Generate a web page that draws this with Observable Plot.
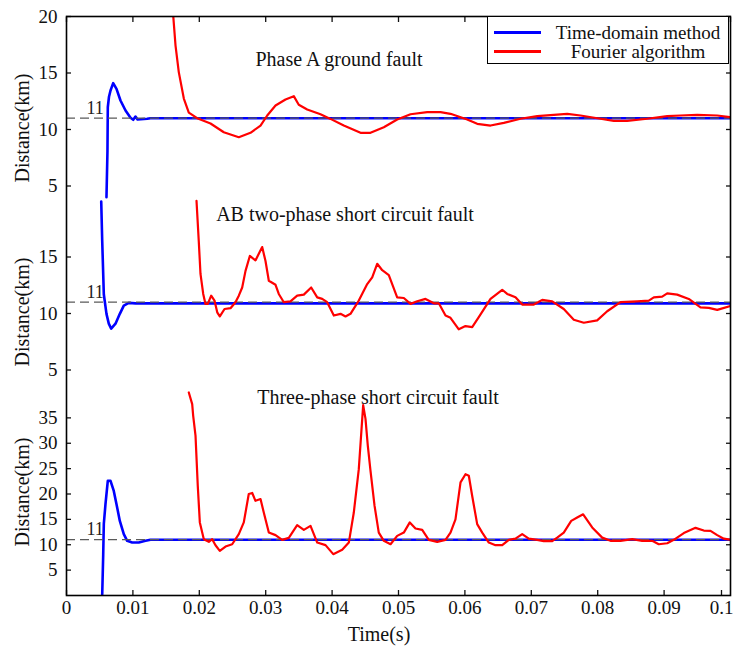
<!DOCTYPE html>
<html><head><meta charset="utf-8">
<script src="https://cdn.jsdelivr.net/npm/d3@7"></script>
<script src="https://cdn.jsdelivr.net/npm/@observablehq/plot@0.6"></script>
<style>
body{margin:0;background:#fff;}
#chart{position:relative;width:734px;height:646px;font-family:"Liberation Serif",serif;color:#111;}
#chart svg{position:absolute;left:0;top:0;}
.lbl{position:absolute;font-size:20px;white-space:nowrap;line-height:1;}
.ctr{transform:translate(-50%,-50%);}
.rot{transform:translate(-50%,-50%) rotate(-90deg);}
#legend{position:absolute;left:487px;top:16px;width:242px;height:48px;border:1.5px solid #000;background:#fff;box-sizing:border-box;}
#legend .row{position:absolute;left:0;width:100%;height:20px;}
#legend .sw{position:absolute;left:6px;top:9px;width:47px;height:3px;}
#legend .tx{position:absolute;left:60px;right:0px;top:0px;text-align:center;font-size:19px;}
</style></head>
<body>
<div id="chart"></div>
<script>
// ---------- data ----------
const seriesNames = ["Time-domain method", "Fourier algorithm"];
const seriesColors = ["#0000ff", "#ff0000"];
const panelTitles = ["Phase A ground fault", "AB two-phase short circuit fault", "Three-phase short circuit fault"];
const yLabel = "Distance(km)";
const xLabel = "Time(s)";
const refDistance = 11;
const xTicks = [0, 0.01, 0.02, 0.03, 0.04, 0.05, 0.06, 0.07, 0.08, 0.09, 0.1];
const yTicks1 = [5, 10, 15, 20];
const yTicks2 = [5, 10, 15];
const yTicks3 = [5, 10, 15, 20, 25, 30, 35];

// Panel 1: Phase A ground fault
const p1BlueT = [0.00602,0.00617,0.00622,0.0064,0.00663,0.00703,0.00753,0.00813,0.00889,0.00964,0.01005,0.01039,0.0107,0.01215,0.01265,0.1];
const p1BlueV = [4.0,8.1,11.97,12.9,13.45,14.1,13.6,12.57,11.68,11.04,10.86,11.15,10.88,10.95,11.0,11.0];
const p1RedT = [0.01596,0.01607,0.01642,0.01691,0.01767,0.01842,0.01968,0.02169,0.02369,0.02595,0.02771,0.02922,0.03023,0.03148,0.03298,0.03423,0.03498,0.03625,0.03825,0.03976,0.04176,0.04428,0.04578,0.04779,0.0498,0.05181,0.05432,0.05633,0.05783,0.06035,0.06185,0.06386,0.06586,0.06837,0.07089,0.07339,0.07541,0.07741,0.08042,0.08242,0.08444,0.08745,0.09047,0.09247,0.09498,0.098,0.1];
const p1RedV = [21,20.09,17.43,15.08,12.74,11.5,11.0,10.53,9.76,9.32,9.71,10.35,11.24,12.12,12.65,12.95,12.19,11.77,11.35,10.94,10.35,9.71,9.71,10.2,10.88,11.35,11.53,11.53,11.39,10.88,10.5,10.35,10.59,10.95,11.18,11.3,11.39,11.24,10.95,10.77,10.77,10.95,11.18,11.24,11.3,11.24,11.09];

// Panel 2: AB two-phase short circuit fault
const p2BlueT = [0.00523,0.00538,0.00562,0.00602,0.00637,0.00673,0.00738,0.00803,0.00863,0.00938,0.0104,0.1];
const p2BlueV = [19.9,16.4,11.7,9.97,9.1,8.66,9.1,9.97,10.7,10.94,10.9,10.9];
const p2RedT = [0.01958,0.01992,0.02018,0.02059,0.02093,0.02128,0.02179,0.02229,0.0227,0.02309,0.0238,0.0247,0.02545,0.02595,0.02646,0.02696,0.02761,0.02846,0.02947,0.02997,0.03047,0.03148,0.03197,0.03273,0.03373,0.03474,0.03574,0.03685,0.03776,0.03851,0.03926,0.04026,0.04127,0.04202,0.04277,0.04402,0.04529,0.04604,0.04679,0.04755,0.04854,0.0498,0.0508,0.05181,0.05282,0.05407,0.05532,0.05607,0.05708,0.05783,0.05908,0.06009,0.0611,0.06209,0.06386,0.06562,0.06637,0.06762,0.06863,0.07038,0.07164,0.07315,0.07489,0.0764,0.07791,0.07992,0.08143,0.08343,0.08595,0.0877,0.08845,0.08971,0.09047,0.09197,0.09372,0.09548,0.09673,0.098,0.1];
const p2RedV = [19.97,16.4,13.5,11.73,10.85,10.85,11.58,11.14,10.1,9.74,10.4,10.47,11.0,11.58,12.3,13.77,15.09,14.7,15.88,14.65,12.9,12.54,11.73,11.0,11.08,11.58,11.67,12.3,11.43,11.29,11.0,9.82,9.97,9.74,9.97,11.14,12.6,13.2,14.4,13.83,13.4,11.43,11.37,10.85,11.08,11.29,10.9,10.9,9.82,9.62,8.6,8.89,8.8,9.68,11.29,12.1,11.73,11.43,10.79,10.79,11.2,11.08,10.4,9.45,9.18,9.39,10.2,11.0,11.08,11.14,11.43,11.49,11.78,11.67,11.29,10.55,10.5,10.32,10.67];

// Panel 3: Three-phase short circuit fault
const p3BlueT = [0.00538,0.00553,0.00562,0.00587,0.00622,0.00663,0.00712,0.00753,0.00803,0.00863,0.00914,0.00989,0.01089,0.0119,0.01265,0.1];
const p3BlueV = [0.26,8.1,14.1,18.0,22.6,22.6,20.6,18.0,14.7,12.1,10.77,10.43,10.43,10.77,11,11];
const p3RedT = [0.01842,0.01893,0.01908,0.01943,0.01977,0.02008,0.02068,0.02143,0.02194,0.02244,0.02309,0.02395,0.02495,0.02595,0.0267,0.02745,0.02797,0.02846,0.02922,0.02971,0.03047,0.03148,0.03248,0.03348,0.03474,0.03574,0.03675,0.03776,0.03901,0.04017,0.04152,0.04252,0.04327,0.04402,0.04468,0.04503,0.04538,0.04578,0.04639,0.04703,0.04779,0.0488,0.0498,0.0508,0.0517,0.05256,0.05357,0.05456,0.05583,0.05708,0.05783,0.05858,0.05934,0.06009,0.06059,0.0611,0.06185,0.06261,0.0636,0.06461,0.06562,0.06661,0.06762,0.06863,0.06962,0.07089,0.07188,0.07315,0.0739,0.07489,0.07601,0.07691,0.07781,0.07917,0.08068,0.08193,0.08343,0.0852,0.0867,0.0882,0.0892,0.09047,0.09146,0.09297,0.09473,0.09598,0.09699,0.098,0.09899,0.1];
const p3RedV = [40.0,37.7,35.4,31.5,21.6,14.4,11.1,10.57,11.1,9.9,8.8,9.65,10.1,12.1,14.4,20.0,20.2,18.66,19.0,16.35,12.4,11.9,10.97,11.36,13.87,12.94,13.73,10.43,9.92,8.15,9.0,10.43,16.35,24.9,37.5,34.8,29.5,24.6,17.7,12.4,10.77,10.1,11.75,12.4,14.4,13.2,12.94,10.97,10.57,10.97,12.4,15.0,22.3,23.9,23.6,19.6,14.06,12.4,10.43,9.92,9.92,10.97,11.2,12.1,11.2,10.97,10.7,10.7,11.4,12.4,14.7,15.36,16.0,13.4,11.4,10.77,10.77,11.1,10.77,10.77,10.1,10.3,10.97,12.3,13.33,12.8,12.74,11.9,11.2,10.97];

// ---------- build ----------
const zip = (T, V) => T.map((t, i) => ({t, v: V[i]}));
const W = 734, H = 646;
const M = {left: 66, right: 4, top: 16, bottom: 51};
const fmtX = d => String(+d.toFixed(2));

const panels = [
  {domain: [0, 20], range: [242, 16], ticks: yTicks1, blue: zip(p1BlueT, p1BlueV), red: zip(p1RedT, p1RedV)},
  {domain: [0, 20], range: [426, 200], ticks: yTicks2, blue: zip(p2BlueT, p2BlueV), red: zip(p2RedT, p2RedV)},
  {domain: [0, 40], range: [595, 392], ticks: yTicks3, blue: zip(p3BlueT, p3BlueV), red: zip(p3RedT, p3RedV), last: true}
];

const chart = document.getElementById("chart");
panels.forEach(p => {
  const marks = [
    Plot.line(p.blue, {x: "t", y: "v", stroke: seriesColors[0], strokeWidth: 2.6, clip: true}),
    Plot.ruleY([refDistance], {stroke: "#5a5a5a", strokeWidth: 1.3, strokeDasharray: "9,5"}),
    Plot.line(p.red, {x: "t", y: "v", stroke: seriesColors[1], strokeWidth: 2.2, clip: true}),
    Plot.text([refDistance], {y: d => d, text: d => String(d), frameAnchor: "left", dx: 20, dy: -10, fontSize: 18, fill: "#222"}),
    Plot.axisY(p.ticks, {anchor: "left", tickSize: -5, tickPadding: 14, label: null, strokeWidth: 1.3, fontSize: 19}),
    Plot.axisY(p.ticks, {anchor: "right", tickSize: -5, tickFormat: () => "", label: null, strokeWidth: 1.3})
  ];
  if (p.last) {
    marks.push(
      Plot.axisX(xTicks.slice(0, -1), {anchor: "bottom", tickSize: -5, tickPadding: 10, tickFormat: fmtX, label: null, strokeWidth: 1.3, fontSize: 19}),
      Plot.axisX(xTicks.slice(-1), {anchor: "bottom", tickSize: -5, tickPadding: 10, tickFormat: fmtX, label: null, strokeWidth: 1.3, fontSize: 19, dx: -9}),
      Plot.axisX(xTicks, {anchor: "top", tickSize: -5, tickFormat: () => "", label: null, strokeWidth: 1.3}),
      Plot.frame({stroke: "#000", strokeWidth: 1.6})
    );
  }
  const svg = Plot.plot({
    width: W, height: H,
    marginLeft: M.left, marginRight: M.right, marginTop: M.top, marginBottom: M.bottom,
    x: p.last ? {domain: [0, 0.1], label: null} : {domain: [0, 0.1], label: null, axis: null},
    y: {domain: p.domain, range: p.range, label: null},
    style: {background: "transparent", fontFamily: "Liberation Serif, serif", fontSize: "19px", color: "#111", overflow: "visible"},
    marks
  });
  chart.appendChild(svg);
});

// text overlays
function addLabel(text, x, y, cls) {
  const d = document.createElement("div");
  d.className = "lbl " + cls;
  d.style.left = x + "px"; d.style.top = y + "px";
  d.textContent = text;
  chart.appendChild(d);
}
const titlePos = [[339, 59], [345, 214], [378, 397]];
panelTitles.forEach((t, i) => addLabel(t, titlePos[i][0], titlePos[i][1], "ctr"));
[128, 312, 492].forEach(y => addLabel(yLabel, 22, y, "rot"));
addLabel(xLabel, 379, 634, "ctr");

// legend
const lg = document.createElement("div");
lg.id = "legend";
seriesNames.forEach((n, i) => {
  const r = document.createElement("div");
  r.className = "row"; r.style.top = (5 + i * 19) + "px";
  const sw = document.createElement("div"); sw.className = "sw"; sw.style.background = seriesColors[i];
  const tx = document.createElement("div"); tx.className = "tx"; tx.textContent = n;
  r.appendChild(sw); r.appendChild(tx); lg.appendChild(r);
});
chart.appendChild(lg);
</script>
</body></html>
